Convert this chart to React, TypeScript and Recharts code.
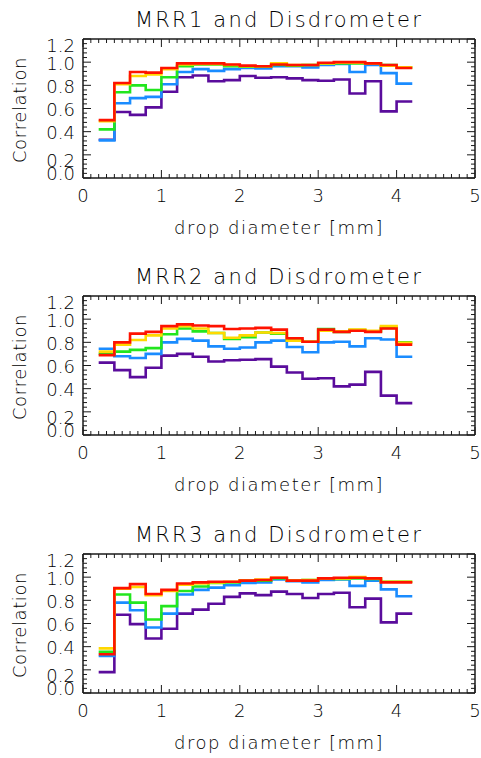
import React from 'react';
import { LineChart, Line, XAxis, YAxis } from 'recharts';

const BIN_STARTS = [0.2, 0.4, 0.6, 0.8, 1.0, 1.2, 1.4, 1.6, 1.8, 2.0, 2.2, 2.4, 2.6, 2.8, 3.0, 3.2, 3.4, 3.6, 3.8, 4.0];
const BIN_END = 4.2;

const X_MAJOR = [0, 1, 2, 3, 4, 5];
const Y_MAJOR = [0, 0.2, 0.4, 0.6, 0.8, 1.0, 1.2];

const TITLES = ['MRR1 and Disdrometer', 'MRR2 and Disdrometer', 'MRR3 and Disdrometer'];
const X_LABEL = 'drop diameter [mm]';
const Y_LABEL = 'Correlation';

const mrr1Purple = [0.33, 0.57, 0.545, 0.61, 0.745, 0.87, 0.885, 0.835, 0.845, 0.88, 0.865, 0.87, 0.86, 0.845, 0.84, 0.85, 0.73, 0.835, 0.575, 0.66];
const mrr1Blue = [0.325, 0.645, 0.69, 0.7, 0.81, 0.915, 0.94, 0.925, 0.94, 0.95, 0.945, 0.965, 0.965, 0.955, 0.975, 0.985, 0.915, 0.975, 0.905, 0.815];
const mrr1Green = [0.42, 0.74, 0.8, 0.76, 0.87, 0.965, 0.98, 0.98, 0.965, 0.96, 0.96, 0.975, 0.97, 0.975, 0.99, 0.99, 0.99, 0.99, 0.975, 0.955];
const mrr1Yellow = [0.49, 0.81, 0.88, 0.895, 0.94, 0.98, 0.985, 0.985, 0.975, 0.965, 0.965, 0.99, 0.975, 0.975, 0.99, 0.995, 0.995, 0.99, 0.97, 0.955];
const mrr1Red = [0.5, 0.82, 0.915, 0.91, 0.95, 0.99, 0.99, 0.99, 0.98, 0.97, 0.965, 0.98, 0.975, 0.975, 0.995, 1.0, 1.0, 0.99, 0.975, 0.95];

const mrr2Purple = [0.625, 0.56, 0.5, 0.58, 0.685, 0.7, 0.675, 0.635, 0.645, 0.65, 0.655, 0.59, 0.54, 0.485, 0.49, 0.42, 0.435, 0.545, 0.34, 0.275];
const mrr2Blue = [0.745, 0.68, 0.665, 0.7, 0.8, 0.83, 0.815, 0.765, 0.745, 0.755, 0.8, 0.815, 0.76, 0.715, 0.8, 0.805, 0.765, 0.835, 0.825, 0.675];
const mrr2Green = [0.7, 0.72, 0.735, 0.75, 0.87, 0.92, 0.895, 0.88, 0.83, 0.845, 0.885, 0.875, 0.82, 0.805, 0.915, 0.89, 0.905, 0.895, 0.925, 0.8];
const mrr2Yellow = [0.72, 0.78, 0.82, 0.86, 0.92, 0.94, 0.92, 0.88, 0.84, 0.86, 0.885, 0.88, 0.815, 0.805, 0.9, 0.895, 0.91, 0.9, 0.94, 0.795];
const mrr2Red = [0.69, 0.8, 0.875, 0.89, 0.94, 0.955, 0.945, 0.94, 0.915, 0.92, 0.925, 0.91, 0.835, 0.805, 0.91, 0.89, 0.9, 0.89, 0.92, 0.78];

const mrr3Purple = [0.18, 0.675, 0.595, 0.47, 0.555, 0.685, 0.72, 0.77, 0.83, 0.86, 0.845, 0.875, 0.855, 0.82, 0.855, 0.865, 0.74, 0.815, 0.61, 0.685];
const mrr3Blue = [0.32, 0.78, 0.715, 0.565, 0.685, 0.85, 0.89, 0.91, 0.93, 0.95, 0.955, 0.98, 0.965, 0.955, 0.975, 0.98, 0.925, 0.97, 0.895, 0.835];
const mrr3Green = [0.355, 0.85, 0.78, 0.635, 0.75, 0.88, 0.92, 0.95, 0.955, 0.97, 0.97, 0.99, 0.97, 0.975, 0.99, 0.985, 0.99, 0.985, 0.96, 0.96];
const mrr3Yellow = [0.385, 0.9, 0.915, 0.845, 0.88, 0.935, 0.945, 0.955, 0.96, 0.97, 0.98, 0.995, 0.97, 0.975, 0.99, 0.99, 1.0, 0.99, 0.96, 0.96];
const mrr3Red = [0.335, 0.905, 0.94, 0.855, 0.89, 0.945, 0.955, 0.96, 0.96, 0.97, 0.975, 0.995, 0.97, 0.97, 0.99, 0.995, 0.995, 0.99, 0.955, 0.955];

const SERIES_KEYS = ['purple', 'blue', 'green', 'yellow', 'red'];
const COLORS: Record<string, string> = {
  purple: '#5a0c9c',
  blue: '#1a8cff',
  green: '#22e61e',
  yellow: '#ffd800',
  red: '#ff1200',
};

const PANELS = [
  { title: TITLES[0], series: { purple: mrr1Purple, blue: mrr1Blue, green: mrr1Green, yellow: mrr1Yellow, red: mrr1Red } },
  { title: TITLES[1], series: { purple: mrr2Purple, blue: mrr2Blue, green: mrr2Green, yellow: mrr2Yellow, red: mrr2Red } },
  { title: TITLES[2], series: { purple: mrr3Purple, blue: mrr3Blue, green: mrr3Green, yellow: mrr3Yellow, red: mrr3Red } },
];

const X_TICKS: number[] = [];
for (let i = 0; i <= 50; i++) X_TICKS.push(Math.round(i) / 10);
const Y_TICKS: number[] = [];
for (let i = 0; i <= 30; i++) Y_TICKS.push(Math.round(i * 4) / 100);

const isXMajor = (v: number) => Math.abs(v - Math.round(v)) < 1e-6;
const isYMajor = (v: number) => Math.abs(v * 5 - Math.round(v * 5)) < 1e-6;

const FONT = 'DejaVu Sans';
const FONT_WEIGHT = 200;
const AXIS_COLOR = '#1a1a1a';
const MAJOR_LEN = 8;
const MINOR_LEN = 4;

function buildData(series: Record<string, number[]>) {
  const rows: any[] = BIN_STARTS.map((x, i) => {
    const r: any = { x };
    SERIES_KEYS.forEach((k) => (r[k] = series[k][i]));
    return r;
  });
  const last: any = { x: BIN_END };
  SERIES_KEYS.forEach((k) => (last[k] = series[k][series[k].length - 1]));
  rows.push(last);
  return rows;
}

const BottomTick = (props: any) => {
  const { x, y, payload } = props;
  const v = payload.value;
  const major = isXMajor(v);
  return (
    <g>
      <line x1={x} x2={x} y1={y} y2={y - (major ? MAJOR_LEN : MINOR_LEN)} stroke={AXIS_COLOR} strokeWidth={1} />
      {major && (
        <text x={x} y={y + 24} textAnchor="middle" fontFamily={FONT} fontWeight={FONT_WEIGHT} fontSize={18} fill="#000">
          {String(Math.round(v))}
        </text>
      )}
    </g>
  );
};

const TopTick = (props: any) => {
  const { x, y, payload } = props;
  const major = isXMajor(payload.value);
  return <line x1={x} x2={x} y1={y} y2={y + (major ? MAJOR_LEN : MINOR_LEN)} stroke={AXIS_COLOR} strokeWidth={1} />;
};

const LABEL_SHIFT: Record<string, number> = { '0.0': -4.5, '0.2': 5.5, '1.2': 6 };

const LeftTick = (props: any) => {
  const { x, y, payload } = props;
  const v = payload.value;
  const major = isYMajor(v);
  const label = v.toFixed(1);
  const shift = LABEL_SHIFT[label] ?? 1;
  return (
    <g>
      <line x1={x} x2={x + (major ? MAJOR_LEN : MINOR_LEN)} y1={y} y2={y} stroke={AXIS_COLOR} strokeWidth={1} />
      {major && (
        <text x={x - 8} y={y + shift + 6.5} textAnchor="end" fontFamily={FONT} fontWeight={FONT_WEIGHT} fontSize={18} fill="#000">
          {label}
        </text>
      )}
    </g>
  );
};

const RightTick = (props: any) => {
  const { x, y, payload } = props;
  const major = isYMajor(payload.value);
  return <line x1={x} x2={x - (major ? MAJOR_LEN : MINOR_LEN)} y1={y} y2={y} stroke={AXIS_COLOR} strokeWidth={1} />;
};

const Panel = ({ title, series }: { title: string; series: Record<string, number[]> }) => {
  const data = buildData(series);
  const renderTitle = (p: any) => {
    const vb = p.viewBox;
    return (
      <text x={vb.x + vb.width / 2} y={vb.y + vb.height - 12} textAnchor="middle" fontFamily={FONT} fontWeight={FONT_WEIGHT} fontSize={21} letterSpacing={2.2} fill="#000">
        {title}
      </text>
    );
  };
  const renderXLabel = (p: any) => {
    const vb = p.viewBox;
    return (
      <text x={vb.x + vb.width / 2} y={vb.y + 56} textAnchor="middle" fontFamily={FONT} fontWeight={FONT_WEIGHT} fontSize={18} letterSpacing={1.5} fill="#000">
        {X_LABEL}
      </text>
    );
  };
  const renderYLabel = (p: any) => {
    const vb = p.viewBox;
    const cy = vb.y + vb.height / 2 + 1.5;
    return (
      <text x={26} y={cy} transform={`rotate(-90, 26, ${cy})`} textAnchor="middle" fontFamily={FONT} fontWeight={FONT_WEIGHT} fontSize={18} letterSpacing={0.6} fill="#000">
        {Y_LABEL}
      </text>
    );
  };
  return (
    <LineChart width={481} height={250} data={data} margin={{ top: 0, right: 0, bottom: 0, left: 0 }}>
      <XAxis
        xAxisId="bottom"
        dataKey="x"
        type="number"
        domain={[0, 5]}
        ticks={X_TICKS}
        interval={0}
        orientation="bottom"
        height={72}
        tickSize={0}
        tickMargin={0}
        tickLine={false}
        tick={BottomTick}
        axisLine={{ stroke: AXIS_COLOR, strokeWidth: 1.5 }}
        label={renderXLabel}
        allowDataOverflow
      />
      <XAxis
        xAxisId="top"
        dataKey="x"
        type="number"
        domain={[0, 5]}
        ticks={X_TICKS}
        interval={0}
        orientation="top"
        height={39}
        tickSize={0}
        tickMargin={0}
        tickLine={false}
        tick={TopTick}
        axisLine={{ stroke: AXIS_COLOR, strokeWidth: 1.5 }}
        label={renderTitle}
        allowDataOverflow
      />
      <YAxis
        yAxisId="left"
        type="number"
        domain={[0, 1.2]}
        ticks={Y_TICKS}
        interval={0}
        orientation="left"
        width={83}
        tickSize={0}
        tickMargin={0}
        tickLine={false}
        tick={LeftTick}
        axisLine={{ stroke: AXIS_COLOR, strokeWidth: 1.5 }}
        label={renderYLabel}
        allowDataOverflow
      />
      <YAxis
        yAxisId="right"
        type="number"
        domain={[0, 1.2]}
        ticks={Y_TICKS}
        interval={0}
        orientation="right"
        width={6}
        tickSize={0}
        tickMargin={0}
        tickLine={false}
        tick={RightTick}
        axisLine={{ stroke: AXIS_COLOR, strokeWidth: 1.5 }}
        allowDataOverflow
      />
      {SERIES_KEYS.map((k) => (
        <Line
          key={k}
          xAxisId="bottom"
          yAxisId="left"
          type="stepAfter"
          dataKey={k}
          stroke={COLORS[k]}
          strokeWidth={2.6}
          dot={false}
          activeDot={false}
          isAnimationActive={false}
        />
      ))}
    </LineChart>
  );
};

const PANEL_TOPS = [0, 257, 515];

export default function App() {
  return (
    <div style={{ position: 'absolute', left: 0, top: 0, width: 481, height: 758, overflow: 'hidden', background: '#fff' }}>
      {PANELS.map((p, i) => (
        <div key={i} style={{ position: 'absolute', left: 0, top: PANEL_TOPS[i] }}>
          <Panel title={p.title} series={p.series} />
        </div>
      ))}
    </div>
  );
}
